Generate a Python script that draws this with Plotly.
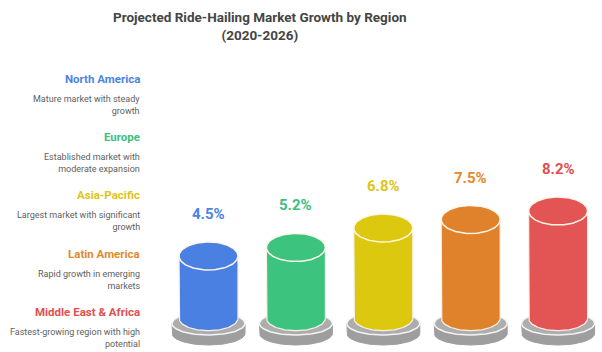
import numpy as np
import plotly.graph_objects as go

# ---------------- data ----------------
regions = ["North America", "Europe", "Asia-Pacific", "Latin America", "Middle East & Africa"]
descriptions = [
    "Mature market with steady<br>growth",
    "Established market with<br>moderate expansion",
    "Largest market with significant<br>growth",
    "Rapid growth in emerging<br>markets",
    "Fastest-growing region with high<br>potential",
]
growth = [4.5, 5.2, 6.8, 7.5, 8.2]
value_labels = [f"{v}%" for v in growth]
title_text = "Projected Ride-Hailing Market Growth by Region<br>(2020-2026)"

# ---------------- style ----------------
bar_colors = ["#4a80e2", "#3cc47e", "#dcc80e", "#e0822b", "#e35454"]
text_colors = ["#4a84e4", "#3dc07e", "#e0c414", "#e2892e", "#e24e4e"]
FONT = "Roboto, Arial, sans-serif"

W, H = 602, 352
XPX, X0PX = 87.4, 208.5      # px per category, pixel of first category
YPX, Y0PX = 12.16, 310.7     # px per value unit, pixel row of value 0
x_range = [-X0PX / XPX, (W - X0PX) / XPX]
y_range = [-(H - Y0PX) / YPX, Y0PX / YPX]


def dx(px):
    return px / XPX


def dy(px):
    return px / YPX


def arc(cx, cy, rx, ry, t0, t1, n=80):
    t = np.linspace(t0, t1, n)
    return list(cx + rx * np.cos(t)), list(cy + ry * np.sin(t))


fig = go.Figure()

R_CYL = dx(29.5)
RY_TOP = dy(14)
RY_BOT = dy(12.5)
CYL_BOTTOM = -dy(7.5)
R_DISC = dx(36.5)
RY_DISC = dy(11.5)
DISC_TOP = -dy(12.8)
DISC_BOT = -dy(22.8)

for i, v in enumerate(growth):
    cx = i
    # disc side
    ax, ay = arc(cx, DISC_BOT, R_DISC, RY_DISC, np.pi, 2 * np.pi)
    xs = [cx - R_DISC] + ax + [cx + R_DISC, cx - R_DISC]
    ys = [DISC_TOP] + ay + [DISC_TOP, DISC_TOP]
    fig.add_trace(go.Scatter(x=xs, y=ys, fill="toself", fillcolor="#9e9e9e",
                             line=dict(color="#9e9e9e", width=1), mode="lines",
                             hoverinfo="skip", showlegend=False))
    # disc top face
    ex, ey = arc(cx, DISC_TOP, R_DISC, RY_DISC, 0, 2 * np.pi, 120)
    fig.add_trace(go.Scatter(x=ex, y=ey, fill="toself", fillcolor="#adadad",
                             line=dict(color="#f4f4f4", width=1.5), mode="lines",
                             hoverinfo="skip", showlegend=False))
    # cylinder body
    bx, by = arc(cx, CYL_BOTTOM, R_CYL, RY_BOT, np.pi, 2 * np.pi)
    xs = [cx - R_CYL] + bx + [cx + R_CYL, cx - R_CYL]
    ys = [v] + by + [v, v]
    fig.add_trace(go.Scatter(x=xs, y=ys, fill="toself", fillcolor=bar_colors[i],
                             line=dict(color="#fbefe6", width=1.2), mode="lines",
                             hoverinfo="skip", showlegend=False))
    # cylinder top
    tx, ty = arc(cx, v, R_CYL, RY_TOP, 0, 2 * np.pi, 120)
    fig.add_trace(go.Scatter(x=tx, y=ty, fill="toself", fillcolor=bar_colors[i],
                             line=dict(color="#fff6e8", width=1.5), mode="lines",
                             hoverinfo="skip", showlegend=False))
    # value label
    fig.add_annotation(x=cx, y=v + dy(42), xref="x", yref="y", text=f"<b>{value_labels[i]}</b>",
                       showarrow=False, font=dict(family=FONT, size=15, color=text_colors[i]),
                       xanchor="center", yanchor="middle")

# left legend text
for i, (name, desc) in enumerate(zip(regions, descriptions)):
    name_y = 79 + 58.2 * i
    fig.add_annotation(x=142 / W, y=1 - name_y / H, xref="paper", yref="paper",
                       text=f"<b>{name}</b>", showarrow=False, align="right",
                       font=dict(family=FONT, size=11.5, color=text_colors[i]),
                       xanchor="right", yanchor="middle")
    fig.add_annotation(x=142 / W, y=1 - (name_y + 26) / H, xref="paper", yref="paper",
                       text=desc, showarrow=False, align="right",
                       font=dict(family=FONT, size=9, color="#606060"),
                       xanchor="right", yanchor="middle")

# title
fig.add_annotation(x=260 / W, y=1 - 26 / H, xref="paper", yref="paper",
                   text=f"<b>{title_text}</b>", showarrow=False, align="center",
                   font=dict(family=FONT, size=13.5, color="#454545"),
                   xanchor="center", yanchor="middle")

fig.update_layout(
    width=W, height=H, margin=dict(l=0, r=0, t=0, b=0),
    paper_bgcolor="white", plot_bgcolor="white",
    xaxis=dict(range=x_range, visible=False, fixedrange=True),
    yaxis=dict(range=y_range, visible=False, fixedrange=True),
    showlegend=False,
)

fig.write_html("out.html", config={"displayModeBar": False})
